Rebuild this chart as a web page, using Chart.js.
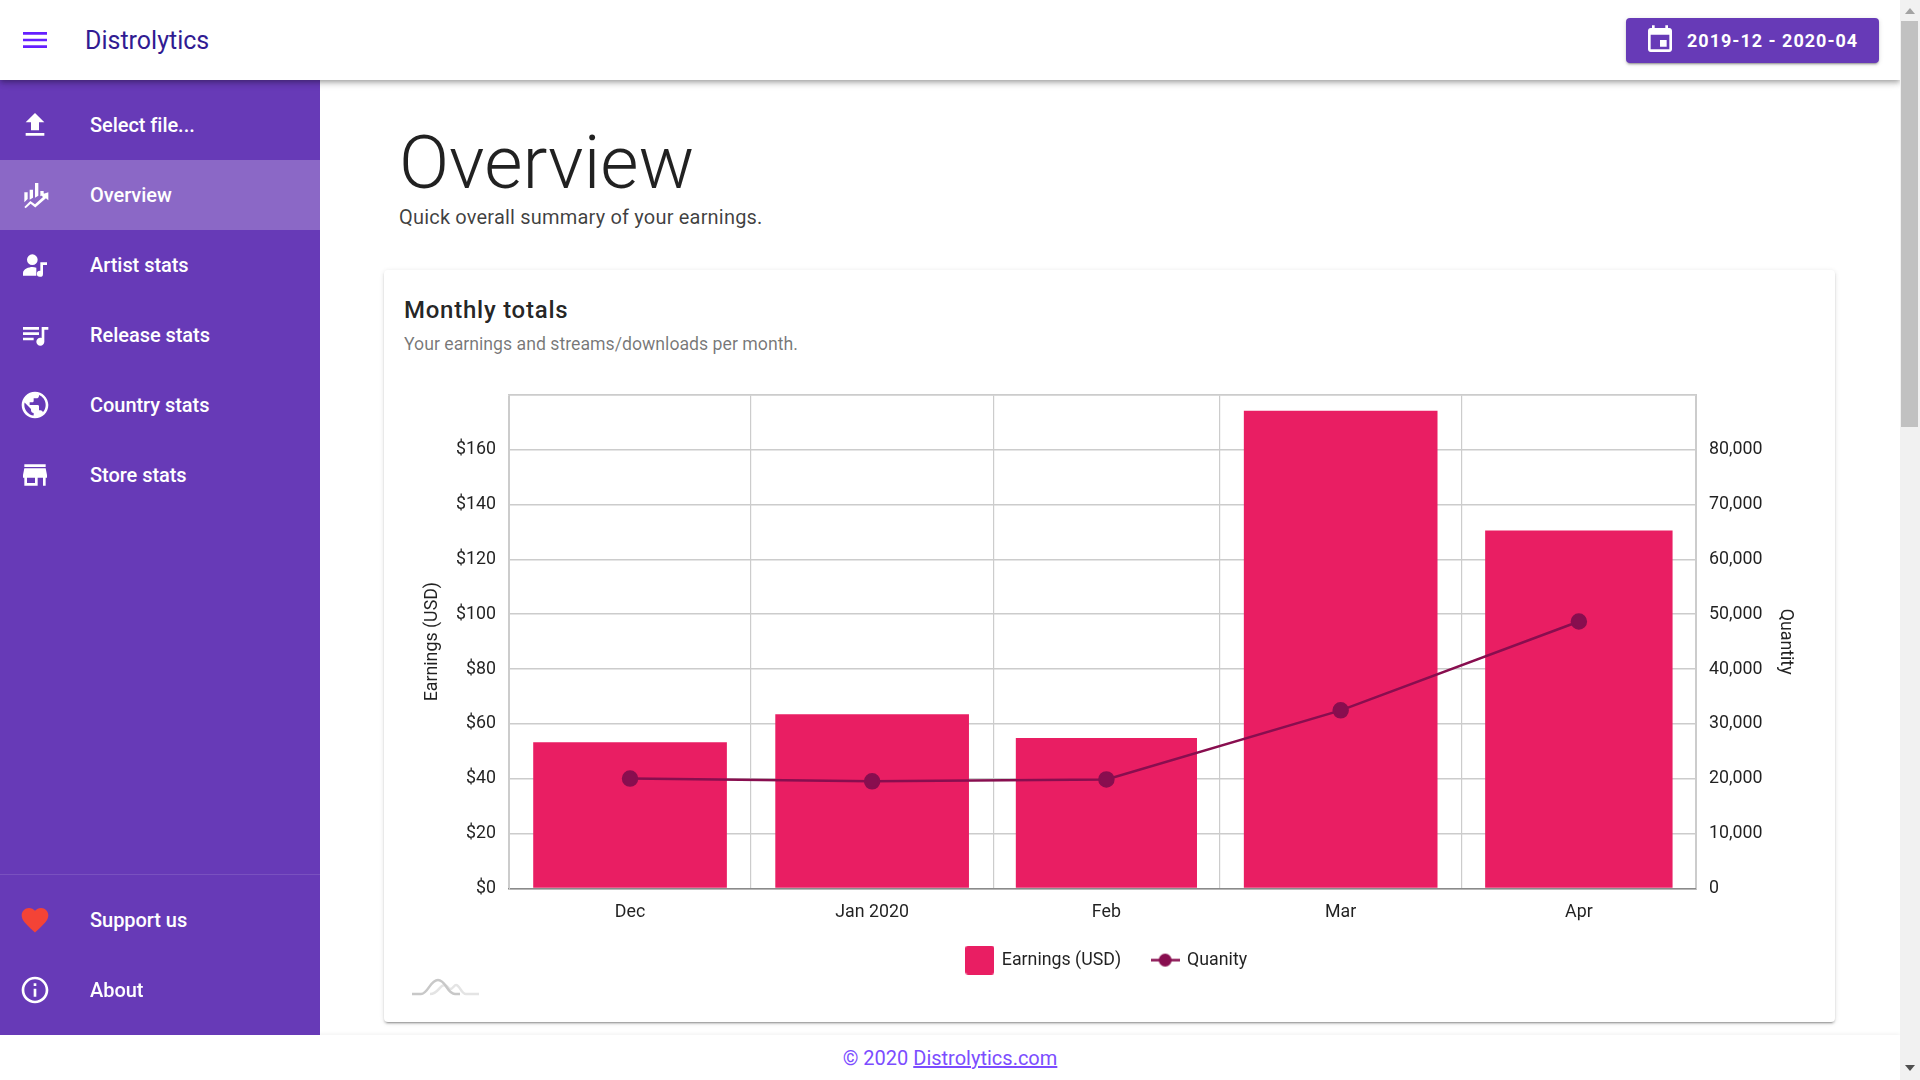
<!DOCTYPE html>
<html lang="en">
<head>
<meta charset="UTF-8">
<title>Distrolytics</title>
<script src="https://cdn.jsdelivr.net/npm/chart.js"></script>
<style>
    html, body { margin: 0; height: 100%; overflow: hidden; background: #fff; font-family: Roboto, sans-serif; }
    .abs { position: absolute; white-space: nowrap; }

    header { position: absolute; left: 0; top: 0; width: 1900px; height: 80px; background: #fff; z-index: 3;
        box-shadow: 0 2px 4px -1px rgba(0,0,0,.2), 0 4px 5px rgba(0,0,0,.14), 0 1px 10px rgba(0,0,0,.12); }
    #brand { left: 85px; top: 25px; font-size: 25px; line-height: 32px; color: #311b92; }
    #range { left: 1626px; top: 18px; width: 253px; height: 45px; background: #673ab7; border-radius: 4px; color: #fff;
        box-shadow: 0 3px 1px -2px rgba(0,0,0,.2), 0 2px 2px rgba(0,0,0,.14), 0 1px 5px rgba(0,0,0,.12); }
    #range span { position: absolute; left: 61px; top: 0; line-height: 46px; font-size: 18px; font-weight: 700; letter-spacing: 1px; }

    nav { position: absolute; left: 0; top: 80px; width: 320px; height: 955px; background: #673ab7; z-index: 2; color: #fff; }
    .item { position: absolute; left: 0; width: 320px; height: 70px; line-height: 70px; font-size: 20px; font-weight: 500; letter-spacing: -.05px; }
    .item span { position: absolute; left: 90px; top: 0; }
    .item svg { position: absolute; left: 19px; top: 19px; }
    .active { background: #8b68c6; }
    #divider { position: absolute; left: 0; top: 794px; width: 320px; height: 1px; background: rgba(255,255,255,.12); }

    #title { left: 399px; top: 121px; font-size: 74px; line-height: 84px; font-weight: 300; color: rgba(0,0,0,.87); }
    #subtitle { left: 399px; top: 203px; font-size: 20px; line-height: 28px; color: rgba(0,0,0,.75); letter-spacing: .19px; }

    #card { position: absolute; left: 384px; top: 270px; width: 1451px; height: 752px; background: #fff; border-radius: 4px;
        box-shadow: 0 3px 1px -2px rgba(0,0,0,.2), 0 2px 2px rgba(0,0,0,.14), 0 1px 5px rgba(0,0,0,.12); }
    #cardTitle { left: 404px; top: 293px; font-size: 24px; line-height: 34px; font-weight: 500; letter-spacing: .75px; color: rgba(0,0,0,.87); }
    #cardSub { left: 404px; top: 331px; font-size: 17.7px; line-height: 26px; color: rgba(0,0,0,.54); }
    #chartBox { position: absolute; left: 404px; top: 371px; width: 1406px; height: 608px; }
    #mark { position: absolute; left: 410px; top: 976px; }

    footer { position: absolute; left: 0; top: 1035px; width: 1900px; height: 45px; background: #fff; text-align: center;
        box-shadow: 0 -1px 4px rgba(0,0,0,.06); line-height: 47px; font-size: 20px; color: #7c4dff; }
    footer a { color: #7c4dff; }

    #scroll { position: absolute; left: 1900px; top: 0; width: 20px; height: 1080px; background: #f1f1f1; z-index: 5; }
    #thumb { position: absolute; left: 1px; top: 21px; width: 17px; height: 406px; background: #c1c1c1; }
    #up { position: absolute; left: 5px; top: 8px; border: 5px solid transparent; border-top: 0; border-bottom: 6px solid #a3a3a3; }
    #down { position: absolute; left: 5px; top: 1065px; border: 5px solid transparent; border-bottom: 0; border-top: 6px solid #505050; }
</style>
</head>
<body>
<header>
    <svg class="abs" style="left:19px;top:24px" width="32" height="32" viewBox="0 0 24 24" fill="#651fff"><path d="M3 18h18v-2H3v2zm0-5h18v-2H3v2zm0-7v2h18V6H3z"/></svg>
    <div class="abs" id="brand">Distrolytics</div>
    <div class="abs" id="range">
        <svg class="abs" style="left:18px;top:6px" width="32" height="32" viewBox="0 0 24 24" fill="#fff"><path d="M17 12h-5v5h5v-5zM16 1v2H8V1H6v2H5c-1.11 0-1.99.9-1.99 2L3 19c0 1.1.89 2 2 2h14c1.1 0 2-.9 2-2V5c0-1.1-.9-2-2-2h-1V1h-2zm3 18H5V8h14v11z"/></svg>
        <span>2019-12 - 2020-04</span>
    </div>
</header>

<nav>
    <div class="item" style="top:10px"><svg width="32" height="32" viewBox="0 0 24 24" fill="#fff"><path d="M9 16h6v-6h4l-7-7-7 7h4v6zm-4 2h14v2H5v-2z"/></svg><span>Select file...</span></div>
    <div class="item active" style="top:80px"><svg width="32" height="32" viewBox="0 0 24 24" fill="#fff"><path d="M4 10h2.500v5L4 17.500zM8 8h2.500v6L8 15.500zM12 3h2.500v9.500L12 14zM16 9h2.500v2.500L16 13zM4 21l4.500-4.500 3.500 2.500 6-5.500-1.800-1.600L22 10v6l-1.800-1.600-8 7-3.500-2.800L5 22z"/></svg><span>Overview</span></div>
    <div class="item" style="top:150px"><svg width="32" height="32" viewBox="0 0 24 24" fill="#fff"><path d="M10 4a4 4 0 1 1 0 8 4 4 0 0 1 0-8zM3 20v-2c0-3 4.500-4.500 7-4.500 1 0 2 .2 3 .5v6zM16 10h5v2h-3v6.500a2.300 2.300 0 1 1-2-2.200z"/></svg><span>Artist stats</span></div>
    <div class="item" style="top:220px"><svg width="32" height="32" viewBox="0 0 24 24" fill="#fff"><path d="M15 6H3v2h12V6zm0 4H3v2h12v-2zM3 16h8v-2H3v2zM17 6v8.180c-.31-.11-.65-.18-1-.18-1.660 0-3 1.340-3 3s1.340 3 3 3 3-1.340 3-3V8h3V6h-5z"/></svg><span>Release stats</span></div>
    <div class="item" style="top:290px"><svg width="32" height="32" viewBox="0 0 24 24" fill="#fff"><path d="M12 2C6.480 2 2 6.480 2 12s4.480 10 10 10 10-4.480 10-10S17.520 2 12 2zm-1 17.930c-3.950-.49-7-3.850-7-7.930 0-.62.08-1.210.21-1.790L9 15v1c0 1.100.9 2 2 2v1.930zm6.900-2.540c-.26-.81-1-1.390-1.900-1.390h-1v-3c0-.55-.45-1-1-1H8v-2h2c.55 0 1-.45 1-1V7h2c1.100 0 2-.9 2-2v-.41c2.930 1.190 5 4.060 5 7.410 0 2.080-.8 3.970-2.100 5.390z"/></svg><span>Country stats</span></div>
    <div class="item" style="top:360px"><svg width="32" height="32" viewBox="0 0 24 24" fill="#fff"><path d="M20 4H4v2h16V4zm1 10v-2l-1-5H4l-1 5v2h1v6h10v-6h4v6h2v-6h1zm-9 4H6v-4h6v4z"/></svg><span>Store stats</span></div>
    <div id="divider"></div>
    <div class="item" style="top:805px"><svg width="32" height="32" viewBox="0 0 24 24" fill="#f44336"><path d="M12 21.350l-1.450-1.320C5.400 15.360 2 12.280 2 8.500 2 5.420 4.420 3 7.500 3c1.740 0 3.410.81 4.500 2.090C13.090 3.810 14.760 3 16.500 3 19.580 3 22 5.420 22 8.500c0 3.780-3.400 6.860-8.550 11.540L12 21.350z"/></svg><span>Support us</span></div>
    <div class="item" style="top:875px"><svg width="32" height="32" viewBox="0 0 24 24" fill="#fff"><path d="M11 17h2v-6h-2v6zm1-15C6.480 2 2 6.480 2 12s4.480 10 10 10 10-4.480 10-10S17.520 2 12 2zm0 18c-4.410 0-8-3.590-8-8s3.590-8 8-8 8 3.590 8 8-3.590 8-8 8zm-1-11h2V7h-2v2z"/></svg><span>About</span></div>
</nav>

<div class="abs" id="title">Overview</div>
<div class="abs" id="subtitle">Quick overall summary of your earnings.</div>

<div id="card"></div>
<div class="abs" id="cardTitle">Monthly totals</div>
<div class="abs" id="cardSub">Your earnings and streams/downloads per month.</div>

<div id="chartBox"><canvas id="monthlyChart"></canvas></div>

<svg id="mark" width="72" height="22" viewBox="0 0 72 22" fill="none" stroke-width="2.500">
    <path d="M20 18c8 0 9-8 14-9 4 0 4 4 6 4 3 0 4-4 6-4 4 0 5 9 10 9h13" stroke="#e4e4e4"/>
    <path d="M2 18h9c7 0 9-14 17-14s9 14 17 14h5" stroke="#c8c8c8"/>
</svg>

<footer>© 2020 <a href="#">Distrolytics.com</a></footer>

<div id="scroll"><div id="up"></div><div id="thumb"></div><div id="down"></div></div>

<script>
    const monthLabels = ['Dec', 'Jan 2020', 'Feb', 'Mar', 'Apr'];
    const monthStarts = [0, 31, 62, 91, 122, 152]; // days since 1 Dec, months are not the same width
    const monthCentres = [15.5, 46.5, 76.5, 106.5, 137];
    const earnings = [53.3, 63.5, 54.9, 174.1, 130.5];
    const quantity = [20050, 19550, 19890, 32480, 48670];
    const earningsTicks = ['$0', '$20', '$40', '$60', '$80', '$100', '$120', '$140', '$160', ''];
    const quantityTicks = ['0', '10,000', '20,000', '30,000', '40,000', '50,000', '60,000', '70,000', '80,000', ''];

    const pink = '#e91e63';
    const plum = '#880e4f';
    const gridGrey = '#cccccc';
    const textColor = 'rgba(0,0,0,.87)';

    Chart.defaults.font.family = 'Roboto';
    Chart.defaults.font.size = 17.8;
    Chart.defaults.color = textColor;

    // bars fill 80% of their own month, the stock controller uses one width for all
    class MonthBarController extends Chart.BarController {
        _calculateBarIndexPixels(index, ruler) {
            const scale = ruler.scale;
            const from = scale.getPixelForValue(monthStarts[index]);
            const to = scale.getPixelForValue(monthStarts[index + 1]);
            const size = (to - from) * 0.8;
            const center = scale.getPixelForValue(monthCentres[index]);
            return { base: center - size / 2, head: center + size / 2, center, size, ratio: 0.8 };
        }
    }
    MonthBarController.id = 'monthBar';
    MonthBarController.defaults = Chart.BarController.defaults;
    Chart.register(MonthBarController);

    // legend markers
    function barMarker() {
        const c = document.createElement('canvas');
        c.width = 29; c.height = 29;
        const g = c.getContext('2d');
        g.fillStyle = pink;
        g.beginPath();
        g.roundRect(0, 0, 29, 29, 3);
        g.fill();
        return c;
    }
    function lineMarker() {
        const c = document.createElement('canvas');
        c.width = 29; c.height = 15;
        const g = c.getContext('2d');
        g.fillStyle = plum;
        g.fillRect(0, 6.25, 29, 2.5);
        g.beginPath();
        g.arc(14.5, 7.5, 6.5, 0, Math.PI * 2);
        g.fill();
        return c;
    }

    new Chart(document.getElementById('monthlyChart'), {
        type: 'bar',
        data: {
            labels: monthCentres,
            datasets: [
                {
                    type: 'line',
                    label: 'Quanity',
                    data: quantity,
                    yAxisID: 'yQuantity',
                    xAxisID: 'x',
                    borderColor: plum,
                    backgroundColor: plum,
                    borderWidth: 2.5,
                    pointRadius: 7,
                    tension: 0,
                    order: 0
                },
                {
                    type: 'monthBar',
                    label: 'Earnings (USD)',
                    data: earnings,
                    yAxisID: 'yEarnings',
                    xAxisID: 'x',
                    backgroundColor: pink,
                    order: 1
                }
            ]
        },
        options: {
            responsive: true,
            maintainAspectRatio: false,
            animation: false,
            layout: { padding: { top: 15 } },
            plugins: {
                tooltip: { enabled: false },
                legend: {
                    position: 'bottom',
                    labels: {
                        usePointStyle: true,
                        pointStyleWidth: 26,
                        padding: 31,
                        color: textColor,
                        generateLabels: () => [
                            { text: 'Earnings (USD)', pointStyle: barMarker(), fontColor: textColor, lineWidth: 0 },
                            { text: 'Quanity', pointStyle: lineMarker(), fontColor: textColor, lineWidth: 0 }
                        ]
                    }
                }
            },
            scales: {
                x: {
                    type: 'linear',
                    position: 'bottom',
                    offset: false,
                    min: 0,
                    max: 152,
                    afterBuildTicks: axis => { axis.ticks = monthCentres.map(value => ({ value })); },
                    ticks: {
                        autoSkip: false,
                        maxRotation: 0,
                        padding: 5.5,
                        callback: (value, i) => monthLabels[i]
                    },
                    grid: { display: false, offset: false },
                    border: { color: '#8a8a8a', width: 1.5 },
                    afterFit: axis => { axis.height = 31.6; }
                },
                xMonths: {
                    type: 'linear',
                    position: 'top',
                    offset: false,
                    min: 0,
                    max: 152,
                    afterBuildTicks: axis => { axis.ticks = monthStarts.map(value => ({ value })); },
                    ticks: { display: false },
                    grid: { color: gridGrey, lineWidth: 1.2, drawTicks: false, offset: false },
                    border: { color: gridGrey, width: 1.5 }
                },
                yEarnings: {
                    position: 'left',
                    min: 0,
                    max: 180,
                    ticks: { stepSize: 20, padding: 13, callback: (value, i) => earningsTicks[i] },
                    grid: { color: gridGrey, lineWidth: 1.5, drawTicks: false },
                    border: { color: gridGrey, width: 1 },
                    title: { display: true, text: 'Earnings (USD)', padding: { top: 18, bottom: 0 } },
                    afterFit: axis => { axis.width = 105; }
                },
                yQuantity: {
                    position: 'right',
                    min: 0,
                    max: 90000,
                    ticks: { stepSize: 10000, padding: 13, callback: (value, i) => quantityTicks[i] },
                    grid: { display: false, drawTicks: false },
                    border: { color: gridGrey, width: 1 },
                    title: { display: true, text: 'Quantity', padding: { top: 14, bottom: 0 } },
                    afterFit: axis => { axis.width = 114; }
                }
            }
        }
    });
</script>
</body>
</html>
